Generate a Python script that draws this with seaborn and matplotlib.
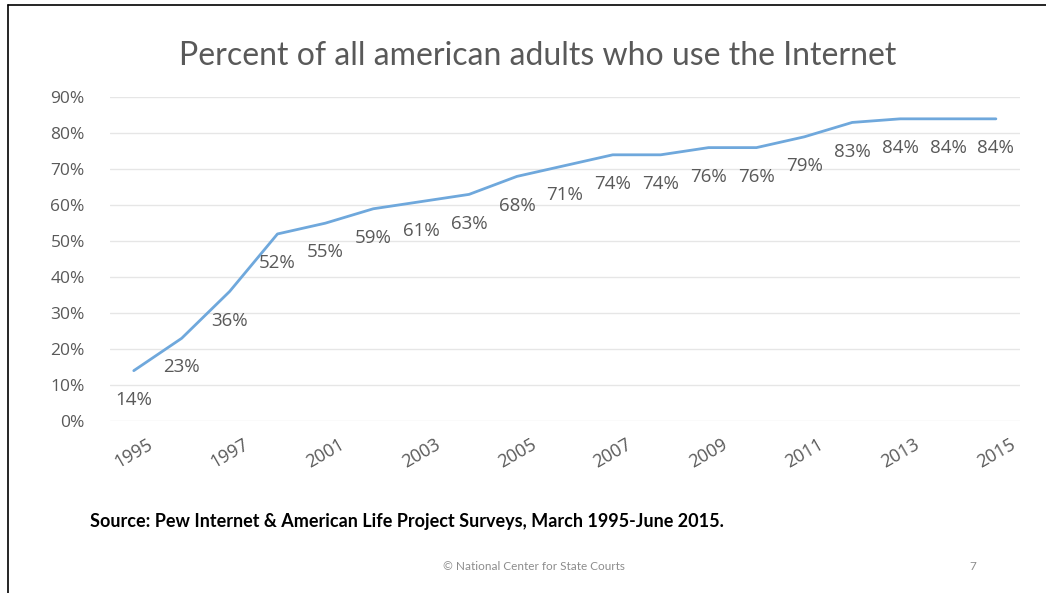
import pandas as pd
import matplotlib.pyplot as plt
import seaborn as sns

years = ['1995', '1996', '1997', '2000', '2001', '2002', '2003', '2004', '2005', '2006',
         '2007', '2008', '2009', '2010', '2011', '2012', '2013', '2014', '2015']
percent = [14, 23, 36, 52, 55, 59, 61, 63, 68, 71, 74, 74, 76, 76, 79, 83, 84, 84, 84]

df = pd.DataFrame({'pos': range(len(years)), 'year': years, 'pct': [p / 100 for p in percent]})

sns.set_style('white')
plt.rcParams['font.family'] = ['Open Sans', 'DejaVu Sans']
grey = '#595959'

fig = plt.figure(figsize=(10.46, 5.93), dpi=100)
ax = fig.add_axes([0.105, 0.29, 0.87, 0.546])

sns.lineplot(x='pos', y='pct', data=df, ax=ax, color='#6fa8dc', linewidth=2)

# data labels under each point
for i, row in df.iterrows():
    ax.annotate(f"{round(row['pct'] * 100)}%", (row['pos'], row['pct']),
                xytext=(0, -21), textcoords='offset points', ha='center', va='center',
                fontsize=13.5, color=grey)

ax.set_xlim(-0.5, len(years) - 0.5)
ax.set_ylim(0, 0.9)
ax.set_yticks([i / 10 for i in range(10)])
ax.set_yticklabels([f'{i * 10}%' for i in range(10)], fontsize=12.5, color=grey)
ax.set_xticks(df['pos'][::2])
ax.set_xticklabels(df['year'][::2], rotation=30, fontsize=13, color=grey, ha='center')
ax.tick_params(axis='y', length=0, pad=18)
ax.tick_params(axis='x', length=0, pad=10)
ax.grid(axis='y', color='#e6e6e6', linewidth=1)
ax.set_xlabel(None)
ax.set_ylabel(None)
for s in ax.spines.values():
    s.set_visible(False)

fig.text(0.514, 0.905, 'Percent of all american adults who use the Internet',
         ha='center', va='center', fontsize=23, color=grey, family=['Lato', 'DejaVu Sans'])
fig.text(0.086, 0.121, 'Source: Pew Internet & American Life Project Surveys, March 1995-June 2015.',
         ha='left', va='center', fontsize=13, fontweight='bold', color='black',
         family=['Lato', 'DejaVu Sans'])
fig.text(0.51, 0.044, '\u00a9 National Center for State Courts', ha='center', va='center',
         fontsize=8.5, color='#8c8c8c', family=['Lato', 'DejaVu Sans'])
fig.text(0.93, 0.044, '7', ha='center', va='center', fontsize=8.5, color='#8c8c8c',
         family=['Lato', 'DejaVu Sans'])

# slide border on top and left
fig.add_artist(plt.Line2D([0.008, 1], [0.992, 0.992], color='black', linewidth=1.2))
fig.add_artist(plt.Line2D([0.008, 0.008], [0, 0.992], color='black', linewidth=1.2))

plt.savefig('out.png', dpi=100)
